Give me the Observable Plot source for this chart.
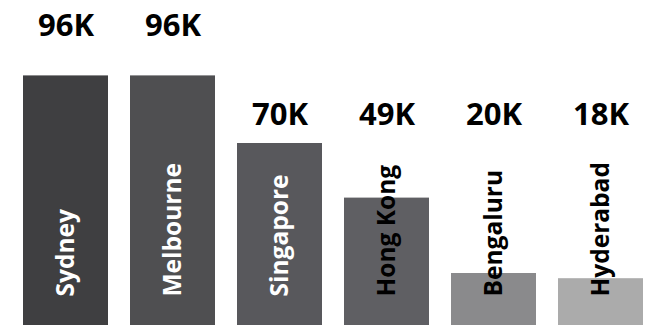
<!DOCTYPE html>
<html>
<head>
<meta charset="utf-8">
<script src="https://cdn.jsdelivr.net/npm/d3@7"></script>
<script src="https://cdn.jsdelivr.net/npm/@observablehq/plot@0.6"></script>
<style>
  html, body { margin: 0; padding: 0; background: #fff; }
  #chart svg { display: block; }
</style>
</head>
<body>
<div id="chart"></div>
<script>
const cities = ["Sydney", "Melbourne", "Singapore", "Hong Kong", "Bengaluru", "Hyderabad"];
const values = [96, 96, 70, 49, 20, 18]; // thousands
const valueLabels = ["96K", "96K", "70K", "49K", "20K", "18K"];
const barColors = ["#3f3f41", "#4f4f51", "#58585c", "#5f5f63", "#8a8a8c", "#ababab"];
const cityTextColors = ["#ffffff", "#ffffff", "#ffffff", "#000000", "#000000", "#000000"];

const data = cities.map((c, i) => ({
  city: c,
  value: values[i],
  label: valueLabels[i],
  color: barColors[i],
  textColor: cityTextColors[i]
}));

const font = "'Open Sans', sans-serif";

const chart = Plot.plot({
  width: 656,
  height: 325,
  marginLeft: 22,
  marginRight: 12,
  marginTop: 0,
  marginBottom: 0,
  style: { fontFamily: font, background: "#fff" },
  x: { domain: cities, paddingInner: 0.21, paddingOuter: 0, axis: null },
  y: { domain: [0, 125], axis: null },
  marks: [
    Plot.barY(data, { x: "city", y: "value", fill: "color" }),
    Plot.text(data, {
      x: "city",
      y: d => (d.value > 80 ? d.value * 1.2 : 81),
      text: "label",
      fontSize: 31,
      fontWeight: "bold",
      fill: "#000",
      lineAnchor: "middle"
    }),
    Plot.text(data, {
      x: "city",
      y: 0,
      text: "city",
      rotate: -90,
      textAnchor: "start",
      lineAnchor: "middle",
      dx: 0,
      dy: -29,
      fontSize: 24.5,
      fontWeight: "bold",
      fill: "textColor"
    })
  ]
});
document.getElementById("chart").appendChild(chart);
</script>
</body>
</html>
